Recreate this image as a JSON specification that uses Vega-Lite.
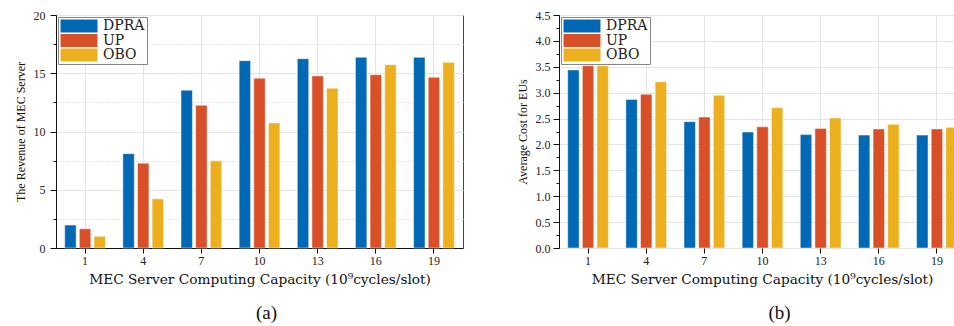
{
  "$schema": "https://vega.github.io/schema/vega-lite/v6.json",
  "padding": {"left": 13, "top": 8, "right": 0, "bottom": 0},
  "background": "white",
  "datasets": {
    "rev": [
      {"cap": 1, "method": "DPRA", "value": 1.97}, {"cap": 1, "method": "UP", "value": 1.65}, {"cap": 1, "method": "OBO", "value": 1.0},
      {"cap": 4, "method": "DPRA", "value": 8.1}, {"cap": 4, "method": "UP", "value": 7.28}, {"cap": 4, "method": "OBO", "value": 4.22},
      {"cap": 7, "method": "DPRA", "value": 13.54}, {"cap": 7, "method": "UP", "value": 12.25}, {"cap": 7, "method": "OBO", "value": 7.48},
      {"cap": 10, "method": "DPRA", "value": 16.08}, {"cap": 10, "method": "UP", "value": 14.57}, {"cap": 10, "method": "OBO", "value": 10.74},
      {"cap": 13, "method": "DPRA", "value": 16.25}, {"cap": 13, "method": "UP", "value": 14.77}, {"cap": 13, "method": "OBO", "value": 13.71},
      {"cap": 16, "method": "DPRA", "value": 16.37}, {"cap": 16, "method": "UP", "value": 14.88}, {"cap": 16, "method": "OBO", "value": 15.74},
      {"cap": 19, "method": "DPRA", "value": 16.37}, {"cap": 19, "method": "UP", "value": 14.65}, {"cap": 19, "method": "OBO", "value": 15.94}
    ],
    "cost": [
      {"cap": 1, "method": "DPRA", "value": 3.44}, {"cap": 1, "method": "UP", "value": 3.52}, {"cap": 1, "method": "OBO", "value": 3.52},
      {"cap": 4, "method": "DPRA", "value": 2.87}, {"cap": 4, "method": "UP", "value": 2.97}, {"cap": 4, "method": "OBO", "value": 3.21},
      {"cap": 7, "method": "DPRA", "value": 2.44}, {"cap": 7, "method": "UP", "value": 2.53}, {"cap": 7, "method": "OBO", "value": 2.95},
      {"cap": 10, "method": "DPRA", "value": 2.24}, {"cap": 10, "method": "UP", "value": 2.34}, {"cap": 10, "method": "OBO", "value": 2.71},
      {"cap": 13, "method": "DPRA", "value": 2.19}, {"cap": 13, "method": "UP", "value": 2.31}, {"cap": 13, "method": "OBO", "value": 2.51},
      {"cap": 16, "method": "DPRA", "value": 2.18}, {"cap": 16, "method": "UP", "value": 2.3}, {"cap": 16, "method": "OBO", "value": 2.39},
      {"cap": 19, "method": "DPRA", "value": 2.18}, {"cap": 19, "method": "UP", "value": 2.3}, {"cap": 19, "method": "OBO", "value": 2.33}
    ]
  },
  "spacing": 96,
  "bounds": "flush",
  "resolve": {"scale": {"x": "independent", "y": "independent", "xOffset": "independent"}, "legend": {"color": "independent"}},
  "hconcat": [
    {
      "width": 407,
      "height": 233,
      "title": {"text": "(a)", "orient": "bottom", "font": "Liberation Serif", "fontSize": 19, "fontWeight": "normal", "color": "#111", "offset": 18, "dx": 7},
      "data": {"name": "rev"},
      "mark": {"type": "bar", "stroke": "white", "strokeWidth": 0.8, "strokeOpacity": 0.6},
      "encoding": {
        "x": {
          "field": "cap", "type": "ordinal",
          "scale": {"paddingInner": 0.3, "paddingOuter": 0.15},
          "axis": {"title": "MEC Server Computing Capacity (10⁹cycles/slot)", "titleFont": "DejaVu Serif", "titleFontSize": 13.7, "labelAngle": 0, "grid": true, "bandPosition": 0.5, "tickSize": 5, "labelPadding": 2, "titlePadding": 6}
        },
        "xOffset": {"field": "method", "type": "nominal", "sort": ["DPRA", "UP", "OBO"], "scale": {"paddingInner": 0.22}},
        "y": {
          "field": "value", "type": "quantitative",
          "scale": {"domain": [0, 20], "nice": false},
          "axis": {
            "title": "The Revenue of MEC Server",
            "values": [0, 2.5, 5, 7.5, 10, 12.5, 15, 17.5, 20],
            "labelExpr": "datum.value % 5 == 0 ? datum.label : ''",
            "tickSize": {"condition": {"test": "datum.value % 5 != 0", "value": 3}, "value": 6},
            "gridDash": {"condition": {"test": "datum.value % 5 != 0", "value": [3, 2]}, "value": []},
            "labelPadding": 5, "titlePadding": 6
          }
        },
        "color": {"field": "method", "type": "nominal", "scale": {"domain": ["DPRA", "UP", "OBO"], "range": ["#0068b4", "#d94f28", "#ecb01f"]}, "legend": {"title": null}}
      }
    },
    {
      "width": 395,
      "height": 233,
      "title": {"text": "(b)", "orient": "bottom", "font": "Liberation Serif", "fontSize": 19, "fontWeight": "normal", "color": "#111", "offset": 18, "dx": 23},
      "data": {"name": "cost"},
      "mark": {"type": "bar", "stroke": "white", "strokeWidth": 0.8, "strokeOpacity": 0.6, "clip": true},
      "encoding": {
        "x": {
          "field": "cap", "type": "ordinal",
          "scale": {"paddingInner": 0.3, "paddingOuter": 0.15, "range": [0, 407]},
          "axis": {"title": "MEC Server Computing Capacity (10⁹cycles/slot)", "titleFont": "DejaVu Serif", "titleFontSize": 13.7, "titleX": 203, "labelAngle": 0, "grid": true, "bandPosition": 0.5, "tickSize": 5, "labelPadding": 2, "titlePadding": 6, "domain": false}
        },
        "xOffset": {"field": "method", "type": "nominal", "sort": ["DPRA", "UP", "OBO"], "scale": {"paddingInner": 0.22}},
        "y": {
          "field": "value", "type": "quantitative",
          "scale": {"domain": [0, 4.5], "nice": false},
          "axis": {
            "title": "Average Cost for EUs",
            "values": [0, 0.25, 0.5, 0.75, 1, 1.25, 1.5, 1.75, 2, 2.25, 2.5, 2.75, 3, 3.25, 3.5, 3.75, 4, 4.25, 4.5],
            "labelExpr": "(datum.value * 2) % 1 == 0 ? format(datum.value, '.1f') : ''",
            "tickSize": {"condition": {"test": "(datum.value * 2) % 1 != 0", "value": 3}, "value": 6},
            "gridOpacity": {"condition": {"test": "(datum.value * 2) % 1 != 0", "value": 0}, "value": 1},
            "labelPadding": 3, "titlePadding": 6
          }
        },
        "color": {"field": "method", "type": "nominal", "scale": {"domain": ["DPRA", "UP", "OBO"], "range": ["#0068b4", "#d94f28", "#ecb01f"]}, "legend": {"title": null}}
      }
    }
  ],
  "config": {
    "view": {"stroke": "#444", "strokeWidth": 1},
    "axis": {"labelFont": "Liberation Serif", "labelFontSize": 12, "labelColor": "#222", "titleFont": "Liberation Serif", "titleFontSize": 12, "titleFontWeight": "normal", "titleColor": "#111", "domainColor": "#111", "tickColor": "#111", "gridColor": "#e4e4e4"},
    "legend": {
      "orient": "top-left", "offset": 2, "padding": 2, "rowPadding": 0.5,
      "symbolType": "M-2.64,-0.93H2.64V0.93H-2.64Z", "symbolSize": 196, "symbolStrokeWidth": 0, "symbolOffset": 12,
      "labelOffset": 17, "labelFont": "DejaVu Serif", "labelFontSize": 14, "labelColor": "#222",
      "strokeColor": "#888", "fillColor": "white"
    }
  }
}
